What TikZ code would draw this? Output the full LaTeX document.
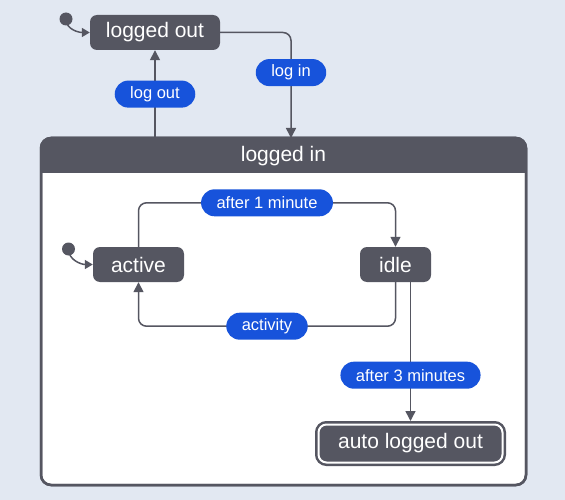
\documentclass[tikz,border=0pt]{standalone}
\usepackage{fontspec}
\setmainfont{Liberation Sans}
\usetikzlibrary{arrows.meta}
\definecolor{bgcol}{HTML}{E2E8F2}
\definecolor{darkcol}{HTML}{555661}
\definecolor{lblcol}{HTML}{1753DB}
\tikzset{
  state/.style={fill=darkcol, text=white, rounded corners=7pt, inner sep=0pt,
    font=\fontsize{21}{24}\selectfont},
  lbl/.style={fill=lblcol, text=white, rounded corners=13.5pt, inner xsep=15.5pt,
    inner ysep=0pt, minimum height=27pt, font=\fontsize{16.5}{19}\selectfont},
  arr/.style={darkcol, line width=1.5pt, -{Triangle[length=10pt,width=10pt]}},
  initarr/.style={darkcol, line width=1.5pt, -{Triangle[length=8pt,width=9pt]}},
  initdot/.style={circle, fill=darkcol, minimum size=13pt, inner sep=0pt}
}
\begin{document}
\begin{tikzpicture}[x=1pt,y=-1pt]
  \fill[bgcol] (0,0) rectangle (565,500);
  % composite state
  \node[draw=darkcol, fill=white, line width=2.5pt, rounded corners=10pt, outer sep=0pt,
    inner sep=0pt, minimum width=485pt, minimum height=347pt] (loggedin) at (283.5,311.5) {};
  \begin{scope}
    \clip[rounded corners=10pt] (loggedin.north west) rectangle (loggedin.south east);
    \fill[darkcol] (loggedin.north west) rectangle ([yshift=-35pt]loggedin.north east);
  \end{scope}
  \draw[darkcol, line width=2.5pt, rounded corners=10pt] (loggedin.north west) rectangle (loggedin.south east);
  \node[text=white, font=\fontsize{21}{24}\selectfont] (loggedintitle) at (283.5,156.5) {logged in};

  \node[state, minimum width=130pt, minimum height=35pt] (loggedout) at (155,32.5) {logged out};
  \node[initdot] (init1) at (66,19) {};
  \draw[initarr] (init1.center) to[out=-90, in=180] (loggedout.west);

  \draw[arr, rounded corners=8pt] (loggedout.east) -| ([xshift=7.5pt]loggedin.north)
    node[lbl, pos=0.69] (login) {log in};
  \draw[arr] (loggedin.north -| loggedout.south) -- (loggedout.south)
    node[lbl, pos=0.5] (logout) {log out};

  \node[state, minimum width=91pt, minimum height=35pt] (active) at (138.5,264.5) {active};
  \node[state, minimum width=71pt, minimum height=35pt] (idle) at (395.5,264.5) {idle};
  \node[initdot] (init2) at (68.5,249) {};
  \draw[initarr] (init2.center) to[out=-90, in=180] (active.west);

  \draw[arr, rounded corners=8pt] (active.north) -- ++(0,-44) -| (idle.north)
    node[lbl, pos=0.25] (after1) {after 1 minute};
  \draw[arr, rounded corners=8pt] (idle.south) -- ++(0,44) -| (active.south)
    node[lbl, pos=0.25] (activity) {activity};

  \node[state, draw=darkcol, double=white, double distance=2pt, line width=2.5pt,
    rounded corners=8pt, outer sep=3.5pt, minimum width=184pt, minimum height=38pt]
    (auto) at (410.5,443.5) {auto logged out};
  \draw[arr] (idle.south -| auto.north) -- (auto.north)
    node[lbl, pos=0.67] (after3) {after 3 minutes};
\end{tikzpicture}
\end{document}
